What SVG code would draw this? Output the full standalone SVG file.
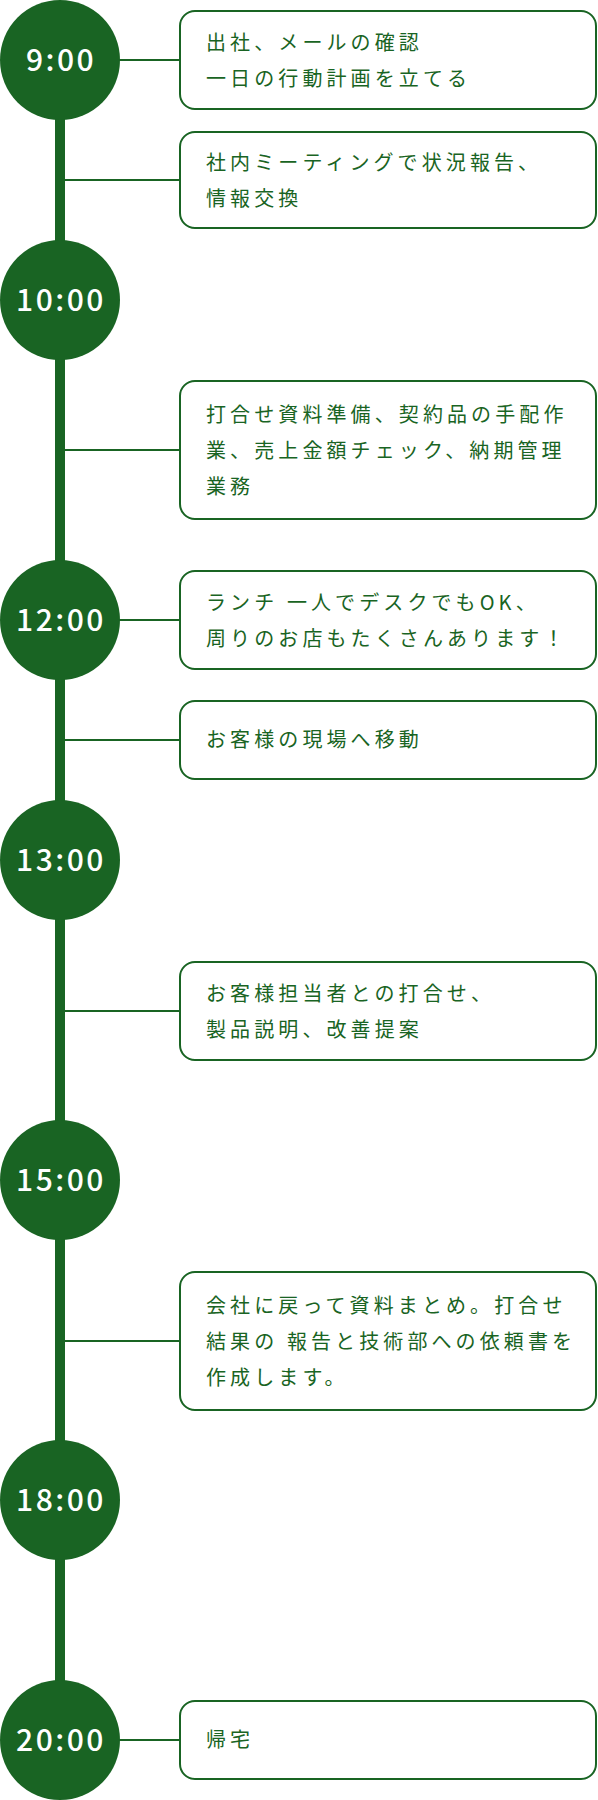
<svg xmlns="http://www.w3.org/2000/svg" width="598" height="1800" viewBox="0 0 598 1800">
<style>
.dot{fill:#196423}
.tm{fill:#fff;font-family:"Noto Sans CJK JP",sans-serif;font-size:30px;font-weight:500;letter-spacing:2.5px;text-anchor:middle}
.box{fill:#fff;stroke:#196423;stroke-width:2}
.tx{fill:#196423;font-family:"Noto Sans CJK JP",sans-serif;font-size:20px;letter-spacing:4.1px}
.con{stroke:#196423;stroke-width:2;fill:none}
.spine{stroke:#196423;stroke-width:10;fill:none}
</style>
<g id="connectors">
<line class="spine" x1="60" y1="60" x2="60" y2="1740"/>
<line class="con" x1="60" y1="60" x2="180" y2="60"/>
<line class="con" x1="60" y1="180" x2="180" y2="180"/>
<line class="con" x1="60" y1="450" x2="180" y2="450"/>
<line class="con" x1="60" y1="620" x2="180" y2="620"/>
<line class="con" x1="60" y1="740" x2="180" y2="740"/>
<line class="con" x1="60" y1="1011" x2="180" y2="1011"/>
<line class="con" x1="60" y1="1341" x2="180" y2="1341"/>
<line class="con" x1="60" y1="1740" x2="180" y2="1740"/>
</g>
<g id="t0900"><circle class="dot" cx="60" cy="60" r="60"/><text class="tm" x="61" y="71">9:00</text></g>
<g id="t1000"><circle class="dot" cx="60" cy="300" r="60"/><text class="tm" x="61" y="311">10:00</text></g>
<g id="t1200"><circle class="dot" cx="60" cy="620" r="60"/><text class="tm" x="61" y="631">12:00</text></g>
<g id="t1300"><circle class="dot" cx="60" cy="860" r="60"/><text class="tm" x="61" y="871">13:00</text></g>
<g id="t1500"><circle class="dot" cx="60" cy="1180" r="60"/><text class="tm" x="61" y="1191">15:00</text></g>
<g id="t1800"><circle class="dot" cx="60" cy="1500" r="60"/><text class="tm" x="61" y="1511">18:00</text></g>
<g id="t2000"><circle class="dot" cx="60" cy="1740" r="60"/><text class="tm" x="61" y="1751">20:00</text></g>
<g id="b1"><rect class="box" x="180" y="11" width="416" height="98" rx="15"/><text class="tx"><tspan x="206" y="50">出社、メールの確認</tspan><tspan x="206" y="86">一日の行動計画を立てる</tspan></text></g>
<g id="b2"><rect class="box" x="180" y="132" width="416" height="96" rx="15"/><text class="tx"><tspan x="206" y="170">社内ミーティングで状況報告、</tspan><tspan x="206" y="206">情報交換</tspan></text></g>
<g id="b3"><rect class="box" x="180" y="381" width="416" height="138" rx="15"/><text class="tx"><tspan x="206" y="422">打合せ資料準備、契約品の手配作</tspan><tspan x="206" y="458">業、売上金額チェック、納期管理</tspan><tspan x="206" y="494">業務</tspan></text></g>
<g id="b4"><rect class="box" x="180" y="571" width="416" height="98" rx="15"/><text class="tx"><tspan x="206" y="610">ランチ 一人でデスクでもOK、</tspan><tspan x="206" y="646">周りのお店もたくさんあります！</tspan></text></g>
<g id="b5"><rect class="box" x="180" y="701" width="416" height="78" rx="15"/><text class="tx" x="206" y="747">お客様の現場へ移動</text></g>
<g id="b6"><rect class="box" x="180" y="962" width="416" height="98" rx="15"/><text class="tx"><tspan x="206" y="1001">お客様担当者との打合せ、</tspan><tspan x="206" y="1037">製品説明、改善提案</tspan></text></g>
<g id="b7"><rect class="box" x="180" y="1272" width="416" height="138" rx="15"/><text class="tx"><tspan x="206" y="1313">会社に戻って資料まとめ。打合せ</tspan><tspan x="206" y="1349">結果の 報告と技術部への依頼書を</tspan><tspan x="206" y="1385">作成します。</tspan></text></g>
<g id="b8"><rect class="box" x="180" y="1701" width="416" height="78" rx="15"/><text class="tx" x="206" y="1747">帰宅</text></g>
</svg>
